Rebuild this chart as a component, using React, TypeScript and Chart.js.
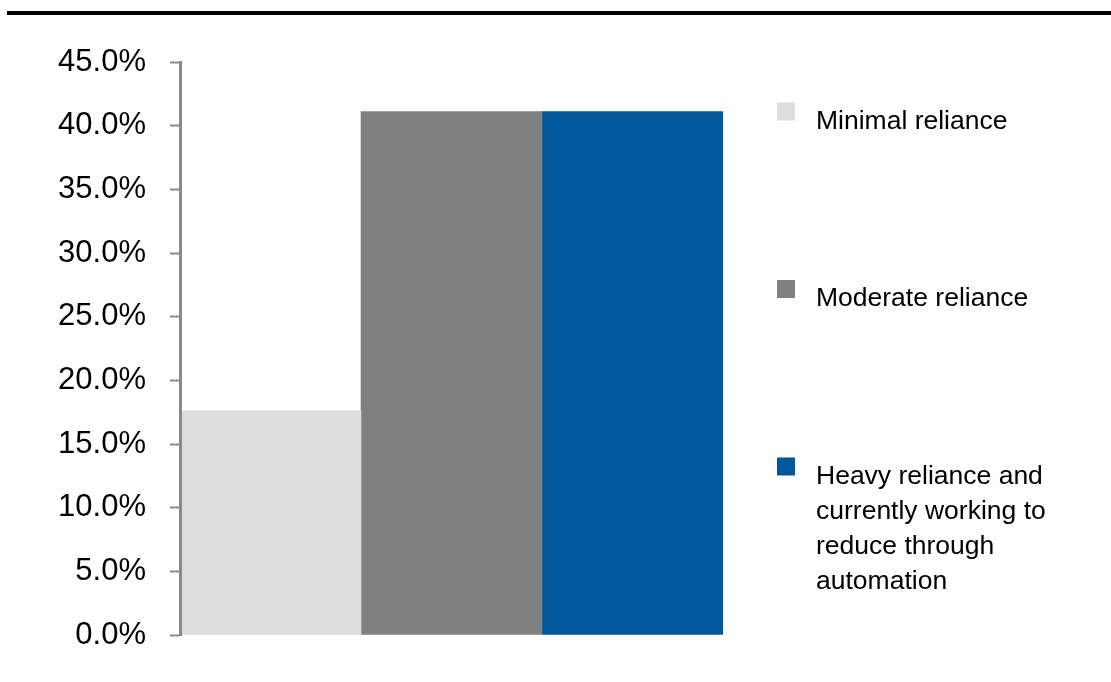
import React, { useEffect, useRef } from "react";
import { Chart, registerables } from "chart.js";

Chart.register(...registerables);

// Survey result: share of respondents by level of reliance
const categories: string[] = [""];
const seriesNames: string[] = [
  "Minimal reliance",
  "Moderate reliance",
  "Heavy reliance and currently working to reduce through automation",
];
const minimalReliance: number[] = [0.176];
const moderateReliance: number[] = [0.411];
const heavyReliance: number[] = [0.411];
const seriesColors: string[] = ["#DDDDDD", "#808080", "#00579B"];

const yMin = 0;
const yMax = 0.45;
const yStep = 0.05;

const FONT = '"Liberation Sans", Arial, Helvetica, sans-serif';
const AXIS_GRAY = "#8A8A8A";

function wrapWords(ctx: CanvasRenderingContext2D, text: string, maxWidth: number): string[] {
  const words = text.split(" ");
  const lines: string[] = [];
  let line = "";
  for (const w of words) {
    const test = line ? line + " " + w : w;
    if (line && ctx.measureText(test).width > maxWidth) {
      lines.push(line);
      line = w;
    } else {
      line = test;
    }
  }
  if (line) lines.push(line);
  return lines;
}

// Thin black rule across the top of the figure
const topRulePlugin = {
  id: "topRule",
  beforeDraw(chart: Chart) {
    const { ctx, width } = chart;
    ctx.save();
    ctx.fillStyle = "#000000";
    ctx.fillRect(7, 11, width - 7, 4);
    ctx.restore();
  },
};

// Legend on the right: square swatches with wrapped labels, spread down the plot height
const sideLegendPlugin = {
  id: "sideLegend",
  afterDraw(chart: Chart) {
    const { ctx, chartArea } = chart;
    const swatchX = chartArea.right + 54;
    const textX = chartArea.right + 93;
    const swatch = 18;
    const firstBaseline = chartArea.top + 66.5;
    const itemGap = 177.5;
    const lineHeight = 35;
    ctx.save();
    ctx.font = `26.5px ${FONT}`;
    ctx.textAlign = "left";
    ctx.textBaseline = "alphabetic";
    chart.data.datasets.forEach((ds, i) => {
      const baseline = firstBaseline + i * itemGap;
      ctx.fillStyle = ds.backgroundColor as string;
      ctx.fillRect(swatchX, baseline - 26, swatch, swatch);
      ctx.fillStyle = "#000000";
      const lines = wrapWords(ctx, String(ds.label), 250);
      lines.forEach((ln, j) => ctx.fillText(ln, textX, baseline + j * lineHeight));
    });
    ctx.restore();
  },
};

export default function App() {
  const canvasRef = useRef<HTMLCanvasElement | null>(null);

  useEffect(() => {
    if (!canvasRef.current) return;
    const seriesValues = [minimalReliance, moderateReliance, heavyReliance];
    const chart = new Chart(canvasRef.current, {
      type: "bar",
      data: {
        labels: categories,
        datasets: seriesNames.map((name, i) => ({
          label: name,
          data: seriesValues[i],
          backgroundColor: seriesColors[i],
          borderWidth: 0,
          categoryPercentage: 1,
          barPercentage: 1,
        })),
      },
      options: {
        responsive: false,
        animation: false,
        layout: { padding: { top: 62, bottom: 47, left: 0, right: 388 } },
        plugins: {
          legend: { display: false },
          tooltip: { enabled: false },
        },
        scales: {
          x: { display: false },
          y: {
            min: yMin,
            max: yMax,
            afterFit(scale: any) {
              scale.width = 180;
            },
            border: { display: true, color: AXIS_GRAY, width: 3, z: 1 },
            grid: {
              drawOnChartArea: false,
              drawTicks: true,
              tickLength: 10,
              tickWidth: 2,
              color: AXIS_GRAY,
            },
            ticks: {
              stepSize: yStep,
              padding: 24,
              color: "#000000",
              font: { family: FONT, size: 31 },
              callback: (v: any) => (Number(v) * 100).toFixed(1) + "%",
            },
          },
        },
      },
      plugins: [topRulePlugin, sideLegendPlugin],
    });
    return () => chart.destroy();
  }, []);

  return (
    <div style={{ position: "absolute", left: 0, top: 0, width: 1111, height: 682, background: "#ffffff" }}>
      <canvas ref={canvasRef} width={1111} height={682} />
    </div>
  );
}
